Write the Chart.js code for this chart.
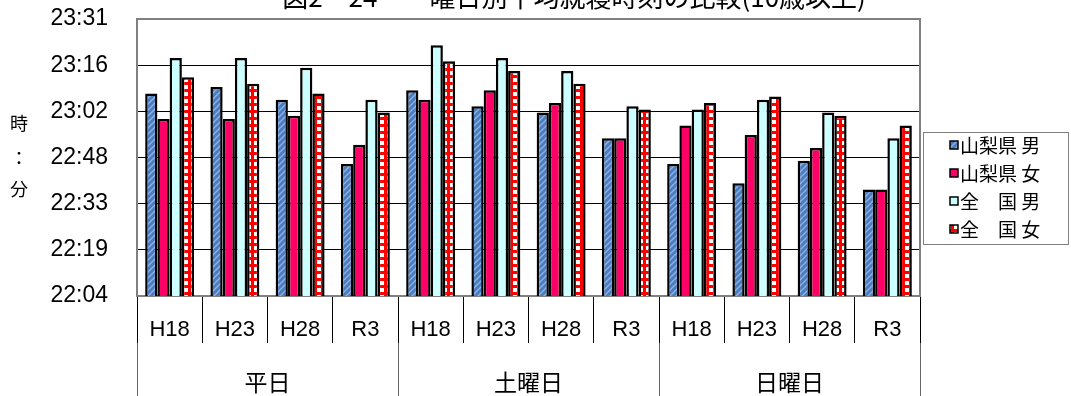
<!DOCTYPE html>
<html lang="ja">
<head>
<meta charset="utf-8">
<style>
  html, body { margin: 0; padding: 0; background: #fff; }
  #wrap { position: relative; width: 1071px; height: 396px; }
</style>
<script src="https://cdn.jsdelivr.net/npm/chart.js@4.4.1/dist/chart.umd.min.js"></script>
</head>
<body>
<div id="wrap"><canvas id="chart" width="1071" height="396"></canvas></div>
<script>
// 曜日別平均就寝時刻（10歳以上）
const categories = ['H18', 'H23', 'H28', 'R3', 'H18', 'H23', 'H28', 'R3', 'H18', 'H23', 'H28', 'R3'];
const dayGroups = ['平日', '土曜日', '日曜日'];
const seriesNames = ['山梨県 男', '山梨県 女', '全　国 男', '全　国 女'];

const yamanashiMale   = ['23:08', '23:10', '23:06', '22:46', '23:09', '23:04', '23:02', '22:54', '22:46', '22:40', '22:47', '22:38'];
const yamanashiFemale = ['23:00', '23:00', '23:01', '22:52', '23:06', '23:09', '23:05', '22:54', '22:58', '22:55', '22:51', '22:38'];
const nationalMale    = ['23:19', '23:19', '23:16', '23:06', '23:23', '23:19', '23:15', '23:04', '23:03', '23:06', '23:02', '22:54'];
const nationalFemale  = ['23:13', '23:11', '23:08', '23:02', '23:18', '23:15', '23:11', '23:03', '23:05', '23:07', '23:01', '22:58'];

const yTickLabels = ['22:04', '22:19', '22:33', '22:48', '23:02', '23:16', '23:31'];
// 軸は1日の割合×100（0.92〜0.98日、目盛り0.01日）
const yMin = 92, yMax = 98, yStep = 1;

const JP = '"Noto Sans CJK JP", sans-serif';
const LAT = '"Liberation Sans", Arial, sans-serif';

// 'HH:MM' -> 1日の割合×100
function toDayPct(t) {
    const [h, m] = t.split(':').map(Number);
    return (h * 60 + m) / 14.4;
}

const canvas = document.getElementById('chart');
const ctx = canvas.getContext('2d');

function hatchPattern() {
    const c = document.createElement('canvas');
    c.width = c.height = 6;
    const g = c.getContext('2d');
    g.fillStyle = '#4a7cc0';
    g.fillRect(0, 0, 6, 6);
    g.strokeStyle = '#8fb2e2';
    g.lineWidth = 1.4;
    g.beginPath();
    g.moveTo(0, 6); g.lineTo(6, 0);
    g.moveTo(-1, 1); g.lineTo(1, -1);
    g.moveTo(5, 7); g.lineTo(7, 5);
    g.stroke();
    return ctx.createPattern(c, 'repeat');
}

function dotPattern() {
    const c = document.createElement('canvas');
    c.width = c.height = 7;
    const g = c.getContext('2d');
    g.fillStyle = '#ff0000';
    g.fillRect(0, 0, 7, 7);
    g.fillStyle = '#ffffff';
    g.fillRect(2, 1, 4, 4);
    return ctx.createPattern(c, 'repeat');
}

const fills = [hatchPattern(), '#ff0066', '#ccffff', dotPattern()];
const seriesValues = [yamanashiMale, yamanashiFemale, nationalMale, nationalFemale];

// タイトル・縦軸タイトル・凡例・枠
const decorations = {
    id: 'decorations',
    beforeDatasetsDraw(chart) {
        const a = chart.chartArea;
        const c = chart.ctx;
        c.save();
        c.strokeStyle = '#808080';
        c.lineWidth = 2;
        c.strokeRect(a.left, a.top, a.right - a.left, a.bottom - a.top);
        c.restore();
    },
    afterDraw(chart) {
        const c = chart.ctx;
        c.save();
        c.fillStyle = '#000';
        c.textAlign = 'center';
        c.textBaseline = 'alphabetic';
        c.font = '26px ' + JP;
        c.fillText('図2－24　　曜日別平均就寝時刻の比較(10歳以上)', 574, 7);

        c.textBaseline = 'middle';
        c.font = '18px ' + JP;
        c.fillText('時', 19, 123);
        c.fillText('：', 19, 158);
        c.fillText('分', 19, 189);

        // 凡例
        c.strokeStyle = '#808080';
        c.lineWidth = 1;
        c.strokeRect(923.5, 132.5, 145, 112);
        c.textAlign = 'left';
        c.font = '19px ' + JP;
        seriesNames.forEach((name, i) => {
            const y = 145 + i * 28;
            c.fillStyle = fills[i];
            c.fillRect(950, y - 4, 8, 8);
            c.strokeStyle = '#000';
            c.lineWidth = 1.5;
            c.strokeRect(950, y - 4, 8, 8);
            c.fillStyle = '#000';
            c.fillText(name, 960, y + 1);
        });
        c.restore();
    }
};

new Chart(canvas, {
    type: 'bar',
    data: {
        labels: categories,
        datasets: seriesNames.map((name, i) => ({
            label: name,
            data: seriesValues[i].map(toDayPct),
            backgroundColor: fills[i],
            borderColor: '#000',
            borderWidth: 2.5,
            categoryPercentage: 0.75,
            barPercentage: 1.0,
        })),
    },
    options: {
        responsive: false,
        animation: false,
        layout: { padding: { top: 19, right: 151, left: 0, bottom: 0 } },
        plugins: { legend: { display: false }, tooltip: { enabled: false } },
        scales: {
            x: {
                weight: 0,
                grid: { offset: true, drawOnChartArea: false, tickLength: 47, color: '#000', lineWidth: 1 },
                border: { color: '#000', width: 1.5 },
                ticks: { autoSkip: false, maxRotation: 0, padding: -26, color: '#000', font: { size: 22, family: LAT } },
                afterFit: s => { s.height = 47; s.paddingLeft = 0; s.paddingRight = 0; },
            },
            x2: {
                type: 'category',
                labels: dayGroups,
                position: 'bottom',
                weight: 1,
                offset: true,
                grid: { offset: true, drawOnChartArea: false, tickLength: 60, color: '#666', lineWidth: 1 },
                border: { display: false },
                ticks: { padding: -35, color: '#000', font: { size: 23, family: JP } },
                afterFit: s => { s.height = 53; s.paddingLeft = 0; s.paddingRight = 0; },
            },
            y: {
                min: yMin,
                max: yMax,
                ticks: {
                    stepSize: yStep,
                    padding: 29,
                    color: '#000',
                    font: { size: 23, family: LAT },
                    callback: (v, i) => yTickLabels[i],
                },
                grid: { color: '#000', lineWidth: 1, drawTicks: false },
                border: { color: '#808080', width: 2 },
                afterFit: s => { s.width = 137; s.paddingTop = 0; s.paddingBottom = 0; },
            },
        },
    },
    plugins: [decorations],
});
</script>
</body>
</html>
